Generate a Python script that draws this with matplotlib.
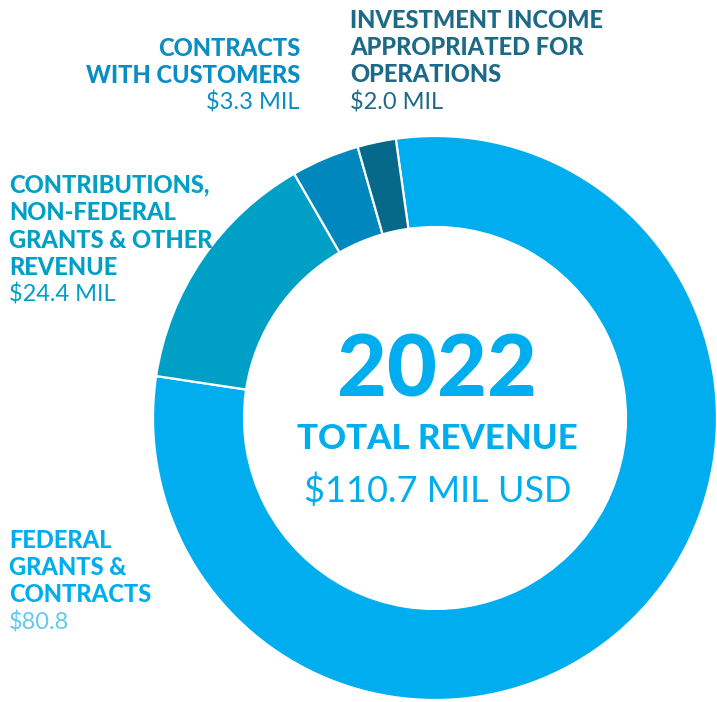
import matplotlib
matplotlib.use("Agg")
import matplotlib.pyplot as plt

# revenue sources, in the order they are drawn (clockwise from the top)
sources = ["Federal grants & contracts", "Contributions, non-federal grants & other revenue",
           "Contracts with customers", "Investment income appropriated for operations"]
amounts = [80.8, 24.4, 3.3, 2.0]          # $ MIL as printed
# share of the ring each arc covers, read off the drawn arcs (percent)
arc_share_pct = [79.6, 14.3, 3.9, 2.2]
colors = ["#00AEEF", "#00A0C6", "#0088BE", "#07698A"]

year = "2022"
total_title = "TOTAL REVENUE"
total_value = "$110.7 MIL USD"

W, H = 717, 702
fig = plt.figure(figsize=(W / 100, H / 100), dpi=100)
ax = fig.add_axes([0, 0, 1, 1])

def py(y):
    # picture y (from top) -> data y
    return H - y

plt.rcParams["font.family"] = ["Lato", "DejaVu Sans"]

ax.pie(arc_share_pct, colors=colors, center=(435, py(418)), radius=282,
       startangle=98, counterclock=False, frame=True,
       wedgeprops=dict(width=91, edgecolor="white", linewidth=1.6))
ax.set_xlim(0, W)
ax.set_ylim(0, H)
ax.set_aspect("equal")
ax.axis("off")

def block(lines, amount, x, y0, ha, color, amount_color, step=27.5):
    for i, ln in enumerate(lines):
        ax.text(x, py(y0 + i * step), ln, ha=ha, va="center", fontsize=17,
                fontweight="black", color=color)
    ax.text(x, py(y0 + len(lines) * step), amount, ha=ha, va="center",
            fontsize=17, color=amount_color)

block(["INVESTMENT INCOME", "APPROPRIATED FOR", "OPERATIONS"], "$%.1f MIL" % amounts[3],
      350, 20, "left", "#1D6A88", "#1D6A88")
block(["CONTRACTS", "WITH CUSTOMERS"], "$%.1f MIL" % amounts[2],
      300, 48, "right", "#0A8DC4", "#0A8DC4")
block(["CONTRIBUTIONS,", "NON-FEDERAL", "GRANTS & OTHER", "REVENUE"], "$%.1f MIL" % amounts[1],
      9, 185, "left", "#00A0C6", "#00A0C6")
block(["FEDERAL", "GRANTS &", "CONTRACTS"], "$%.1f" % amounts[0],
      9, 540, "left", "#00AEEF", "#62C9F2")

ax.text(437, py(372), year, ha="center", va="center", fontsize=62,
        fontweight="black", color="#00AEEF")
ax.text(437, py(439), total_title, ha="center", va="center", fontsize=25,
        fontweight="black", color="#00AEEF")
ax.text(438, py(491), total_value, ha="center", va="center", fontsize=26,
        color="#00AEEF")

fig.savefig("out.png", dpi=100)
